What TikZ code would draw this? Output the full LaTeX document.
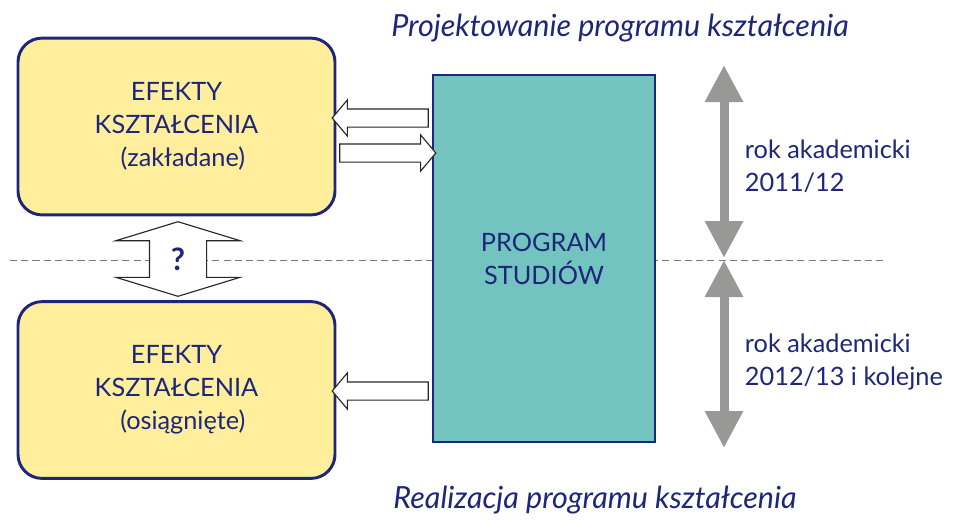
\documentclass[tikz,border=0pt]{standalone}
\usepackage{fontspec}
\setmainfont{Lato}
\definecolor{DeepBlue}{RGB}{30, 38, 122}
\definecolor{Butter}{RGB}{255, 238, 155}
\definecolor{Teal}{RGB}{115, 196, 192}
\definecolor{Ash}{RGB}{152, 152, 150}
\usetikzlibrary{arrows.meta, positioning, shapes.arrows, calc}

\begin{document}
\begin{tikzpicture}[
    every node/.style={font=\fontsize{18}{23.5}\selectfont, align=center, text=DeepBlue},
    effbox/.style={draw=DeepBlue, fill=Butter, line width=2.1pt, rounded corners=0.6cm,
                minimum width=7.925cm, minimum height=4.42cm},
    progbox/.style={draw=DeepBlue, fill=Teal, line width=2.1pt,
                minimum width=5.55cm, minimum height=9.175cm},
    hollow/.style={single arrow, draw=black!85, fill=white, line width=0.8pt, inner sep=0.2125cm,
                minimum height=2.4cm, single arrow head extend=0.225cm,
                single arrow tip angle=100, single arrow head indent=0pt},
    yeararrow/.style={draw=Ash, line width=0.225cm,
                {Triangle[length=0.925cm, width=0.9cm]}-{Triangle[length=0.925cm, width=0.9cm]}},
    note/.style={align=left, anchor=west},
    phase/.style={font=\fontsize{21.7}{24}\selectfont\itshape}
]
\useasboundingbox (0,0) rectangle (23.85,-12.975);

% divider (behind everything)
\coordinate (dl) at (0.25,-6.5);
\coordinate (dr) at (22.125,-6.5);
\draw[dashed, Ash!80!black, dash pattern=on 5pt off 3pt] (dl) -- (dr);

% boxes
\node[effbox] (ezak) at (4.4125,-3.1625) {EFEKTY\\KSZTAŁCENIA\\\hspace{0.5em}(zakładane)};
\node[effbox] (eosi) at (4.4125,-9.75) {EFEKTY\\KSZTAŁCENIA\\\hspace{0.5em}(osiągnięte)};
\node[progbox] (prog) at (13.6,-6.4625) {PROGRAM\\STUDIÓW};

% flows between boxes
\node[hollow, shape border rotate=180] (a1) at ($(ezak.east)!0.5!(prog.west |- ezak.east)+(0,0.2125)$) {};
\node[hollow] (a2) at ($(ezak.east)!0.5!(prog.west |- ezak.east)+(0,-0.6625)$) {};
\node[hollow, shape border rotate=180] (a3) at ($(eosi.east)!0.5!(prog.west |- eosi.east)+(0,-0.025)$) {};

% comparison
\node[double arrow, shape border rotate=90, draw=black!85, fill=white, line width=0.8pt,
      inner sep=0.7cm, minimum height=1.75cm, double arrow head extend=0.8375cm,
      double arrow tip angle=146, double arrow head indent=0pt] (cmp) at (4.45,-6.475) {};
\node[font=\fontsize{22}{24}\selectfont\bfseries] (q) at (cmp.center) {?};

% years
\coordinate (y1) at (18.1,-1.625);
\coordinate (y2) at (18.1,-6.45);
\coordinate (y3) at (18.1,-6.5);
\coordinate (y4) at (18.1,-11.2);
\draw[yeararrow] (y1) -- (y2);
\draw[yeararrow] (y3) -- (y4);
\node[note] (r1) at (18.5,-4.15) {rok akademicki\\2011/12};
\node[note] (r2) at (18.5,-9.04) {rok akademicki\\2012/13 i kolejne};

% titles
\node[phase] (top) at (15.5,-0.7) {Projektowanie programu kształcenia};
\node[phase] (bot) at (14.875,-12.5) {Realizacja programu kształcenia};
\end{tikzpicture}
\end{document}
